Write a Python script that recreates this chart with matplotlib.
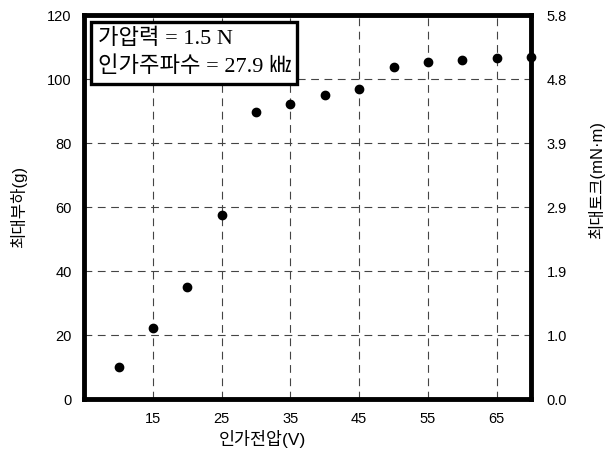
import matplotlib.pyplot as plt

plt.rcParams['font.family'] = ['Liberation Sans', 'Noto Sans CJK KR']

# applied voltage (V) vs. max load (g)
voltage = [10, 15, 20, 25, 30, 35, 40, 45, 50, 55, 60, 65, 70]
max_load = [10, 22.3, 35, 57.5, 89.8, 92.3, 95, 96.9, 103.8, 105.3, 106, 106.5, 106.8]

x_ticks = [15, 25, 35, 45, 55, 65]
y_ticks = [0, 20, 40, 60, 80, 100, 120]
torque_labels = ["0.0", "1.0", "1.9", "2.9", "3.9", "4.8", "5.8"]

fig = plt.figure(figsize=(6.14, 4.55), dpi=100)
ax = fig.add_axes([0.137, 0.123, 0.728, 0.844])

ax.plot(voltage, max_load, "o", color="black", ms=6, clip_on=False, zorder=5)

ax.set_xlim(5, 70)
ax.set_ylim(0, 120)
ax.set_xticks(x_ticks)
ax.set_yticks(y_ticks)
ax.tick_params(length=0, labelsize=10.5, pad=9)
ax.grid(True, ls=(0, (7, 5)), color="#444444", lw=0.8)
for s in ax.spines.values():
    s.set_linewidth(3.5)

# right axis: max torque, same positions as the load ticks
ax2 = ax.twinx()
ax2.set_ylim(0, 120)
ax2.set_yticks(y_ticks)
ax2.set_yticklabels(torque_labels)
ax2.tick_params(length=0, labelsize=10.5, pad=11)
for s in ax2.spines.values():
    s.set_visible(False)

fig.text(0.427, 0.035, "인가전압(V)", ha="center", va="center", fontsize=12.5)
fig.text(0.030, 0.545, "최대부하(g)", ha="center", va="center",
         rotation=90, fontsize=12)
fig.text(0.972, 0.605, "최대토크(mN·m)", ha="center", va="center",
         rotation=90, fontsize=12)

ax.text(0.03, 0.965, "가압력 = 1.5 N\n인가주파수 = 27.9 ㎑",
        transform=ax.transAxes, va="top", ha="left", fontsize=16,
        family=['Liberation Serif', 'Noto Sans CJK KR'],
        linespacing=1.5, zorder=6,
        bbox=dict(boxstyle="square,pad=0.3", fc="white", ec="black", lw=2.4))

fig.savefig("out.png", dpi=100)
